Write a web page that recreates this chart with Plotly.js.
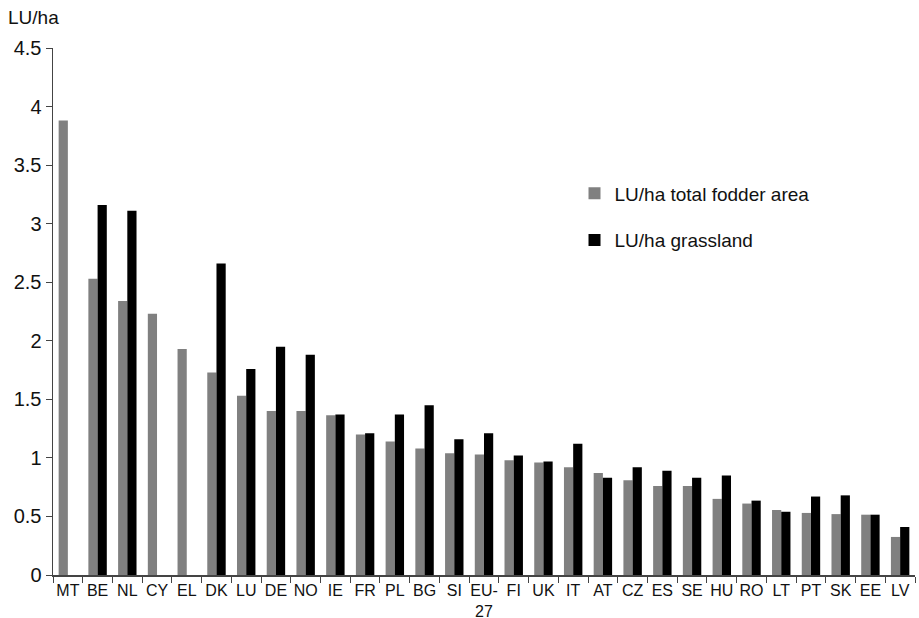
<!DOCTYPE html>
<html>
<head>
<meta charset="utf-8">
<script src="https://cdn.plot.ly/plotly-3.0.1.min.js"></script>
<style>html,body{margin:0;padding:0;background:#fff;}#chart{width:919px;height:618px;}</style>
</head>
<body>
<div id="chart"></div>
<script>
const countries = ["MT","BE","NL","CY","EL","DK","LU","DE","NO","IE","FR","PL","BG","SI","EU-<br>27","FI","UK","IT","AT","CZ","ES","SE","HU","RO","LT","PT","SK","EE","LV"];
const fodderArea = [3.88,2.53,2.34,2.23,1.93,1.73,1.53,1.40,1.40,1.365,1.20,1.14,1.08,1.04,1.03,0.98,0.96,0.92,0.87,0.81,0.76,0.76,0.65,0.61,0.555,0.53,0.52,0.515,0.325];
const grassland = [null,3.16,3.11,null,null,2.66,1.76,1.95,1.88,1.37,1.21,1.37,1.45,1.16,1.21,1.02,0.97,1.12,0.83,0.92,0.89,0.83,0.85,0.635,0.54,0.67,0.68,0.515,0.41];
const yTicks = [0,0.5,1,1.5,2,2.5,3,3.5,4,4.5];
const yTickText = ["0","0.5","1","1.5","2","2.5","3","3.5","4","4.5"];

const font = "Liberation Sans, Arial, Helvetica, sans-serif";
const traces = [
  {type:"bar", name:"LU/ha total fodder area", x:countries, y:fodderArea,
   marker:{color:"#808080"}, legendgroup:"a"},
  {type:"bar", name:"LU/ha grassland", x:countries, y:grassland,
   marker:{color:"#000000"}, legendgroup:"b"}
];
const layout = {
  width:919, height:618,
  margin:{l:53, r:4, t:48, b:43},
  paper_bgcolor:"#fff", plot_bgcolor:"#fff",
  font:{family:font, color:"#111", size:16},
  barmode:"group", bargap:0.38, bargroupgap:0,
  showlegend:true,
  legend:{x:0.605, y:0.76, xanchor:"left", yanchor:"top", bgcolor:"rgba(0,0,0,0)",
          font:{size:19, family:font}, traceorder:"grouped", tracegroupgap:19, itemwidth:30},
  xaxis:{type:"category", showline:true, linecolor:"#444", linewidth:1.5,
         ticks:"outside", ticklen:6, tickcolor:"#444", tickson:"boundaries",
         tickfont:{size:16, family:font}, showgrid:false, zeroline:false,
         tickangle:0, automargin:false},
  yaxis:{range:[0,4.5], tickvals:yTicks, ticktext:yTickText, showline:true,
         linecolor:"#444", linewidth:1.5, ticks:"outside", ticklen:6, tickcolor:"#444",
         tickfont:{size:20, family:font}, showgrid:false, zeroline:false, automargin:false},
  annotations:[{text:"LU/ha", xref:"paper", yref:"paper", x:-0.054, y:1.058,
                xanchor:"left", yanchor:"middle", showarrow:false, font:{size:19, family:font}}]
};
Plotly.newPlot("chart", traces, layout, {displayModeBar:false, staticPlot:true});
</script>
</body>
</html>
